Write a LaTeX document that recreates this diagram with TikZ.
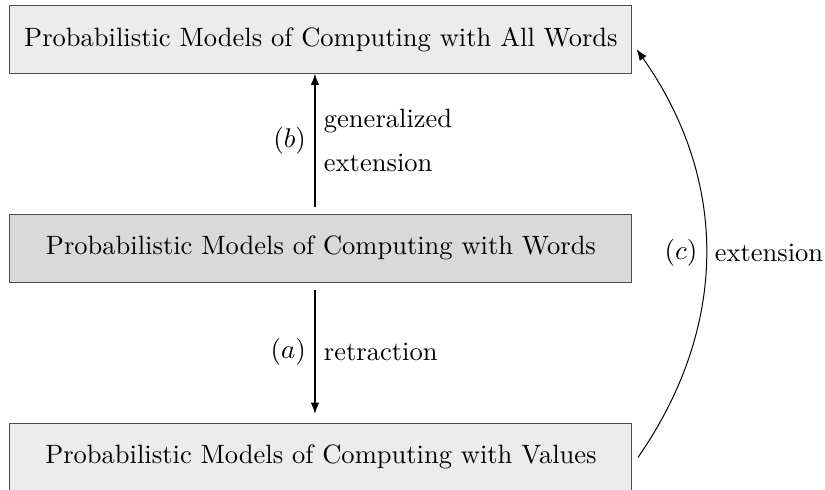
\documentclass[tikz,border=0pt]{standalone}
\usetikzlibrary{positioning,arrows.meta}
\begin{document}
\begin{tikzpicture}[
  font=\fontsize{10.74pt}{13pt}\selectfont,
  model/.style={draw=black!70,fill=gray!15,minimum width=8.85cm,minimum height=0.96cm,inner sep=0pt},
  link/.style={semithick,-{Latex[length=1.6mm]}},
  node distance=2cm
]
\useasboundingbox (0,0) rectangle (11.74,-6.96);
% the three models
\node[model] (all) at (4.567,-0.56) {Probabilistic Models of Computing with All Words};
\node[model,fill=gray!30,below=of all] (words) {Probabilistic Models of Computing with Words};
\node[model,below=of words] (values) {Probabilistic Models of Computing with Values};
% the links between them
\draw[link] ([xshift=-0.085cm,yshift=0.1cm]words.north) -- node[left]{$(b)$}
  node[right,align=left]{generalized\\[5pt]extension} ([xshift=-0.085cm]all.south);
\draw[link] ([xshift=-0.085cm,yshift=-0.11cm]words.south) -- node[left]{$(a)$}
  node[right]{retraction} ([xshift=-0.085cm,yshift=0.13cm]values.north);
\draw[thin,-{Latex[length=1.6mm]}] ([xshift=0.08cm]values.east) to[bend right=35]
  node[left]{$(c)$} node[right]{extension} ([xshift=0.06cm,yshift=-0.14cm]all.east);
\end{tikzpicture}
\end{document}
